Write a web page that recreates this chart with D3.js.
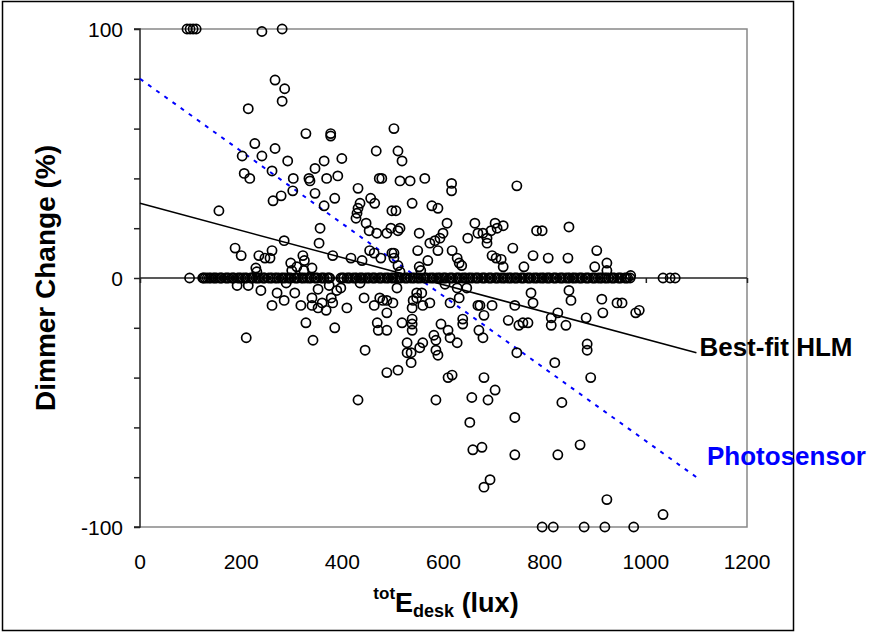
<!DOCTYPE html>
<html lang="en">
    <head>
        <title>Dimmer Change vs Desk Illuminance</title>
        <meta charset="utf-8">
        <script src="https://d3js.org/d3.v7.min.js"></script>
        <style>
            body {
                margin: 0;
                padding: 0;
                background-color: white;
                font-family: "Liberation Sans", Arial, sans-serif;
            }
        </style>
    </head>
    <body>
    <div id="container"></div>
    <script>

        // scattered observations [lux, dimmer change %]
        const points = [
            [93,100],[99,100],[105,100],[111,100],[241,99],[281,100],
            [267,79.5],[286,76],[281,71],[214,68],
            [328,58],[377,58],[377,57],[502,60],
            [227,54],[202,49],[241,49],[267,52],[292,47],[346,44],[364,47],
            [467,51],[510,51],[518,47],[399,48],
            [206,42],[217,40],[261,43],[303,40],[334,40],[369,40],[391,41],[478,40],[336,39],
            [514,39],[534,39],[563,40],[473,40],[616,38],[616,35],[745,37],
            [279,33],[263,31],[302,35],[346,34],[385,32],[364,29],[431,36],[456,32],[464,30],
            [435,30],[431,28],[429,26],[427,24],[447,22],[453,19],[468,18],[156,27],[356,20],
            [354,14],[285,15],[188,12],[200,9],[235,9],[247,8],[257,8],[261,11],[229,4],[231,2.5],
            [298,6],[310,4.5],[322,9],[325,7],[340,4],[300,3],[324,3],[381,9],[417,8],[439,7],
            [454,11],[476,8],
            [538,30],[577,29],[589,28],[498,27],[506,27],[488,18],[496,20],[510,19],[514,20],
            [552,18],[607,22],[599,18],[593,16],[583,15],[573,14],[589,11],[549,11],[569,7],
            [617,11],[627,8],[631,6],[636,5],[552,4.5],[555,3],[463,10],[498,10],[502,10],
            [502,8],[510,5],[514,2.5],
            [662,22],[668,18],[678,18],[686,16],[686,14],[702,22],[706,20],[694,19],[718,21],
            [648,16],[737,12],[696,9],[704,8],[714,7.5],[718,4.5],[759,4.5],[777,9],[784,19],
            [795,19],[807,8],[848,20.5],[846,8],[903,11],[899,4.5],[923,6],[923,3],[970,1],
            [192,-3],[214,-3],[239,-5],[271,-6],[289,-2],[306,-6],[261,-11],[285,-9],[318,-11],
            [340,-8],[340,-11],[352,-4.5],[352,-12],[360,-10],[368,-13],[374,-3],[378,-8],
            [381,-10],[389,-5],[397,-4],[409,-12],[435,-2],[443,-8],[463,-11],[474,-8],
            [328,-18],[385,-20],[469,-18],[471,-21],[210,-24],[342,-25],[445,-29],[431,-49],
            [508,-4],[547,-6],[557,-6],[603,-2.5],[627,-4],[646,-4],[480,-9],[488,-9],[500,-10],
            [488,-14],[540,-9],[547,-8],[538,-12],[559,-11],[573,-10],[613,-10],[631,-8],
            [668,-11],[672,-11],[696,-11],[741,-11],[773,-6],[777,-10],[848,-5],[852,-9],
            [913,-8.5],[915,-14],[943,-10],[953,-10],[980,-14],[987,-13],[826,-14],[813,-16],
            [813,-19],[842,-19],[882,-16],[728,-17],[749,-19],[757,-18],[767,-18],[488,-21],
            [518,-18],[538,-16.5],[538,-18.5],[538,-21],[595,-18.5],[609,-21],[638,-16.5],
            [638,-18.5],[670,-21],[680,-15],[581,-23],[585,-25],[613,-24],[627,-26],[678,-24],
            [528,-26],[559,-26],[553,-28],[528,-30],[536,-30],[585,-29],[589,-31],[536,-34],
            [488,-38],[510,-37],[609,-40],[617,-39],[680,-40],[702,-45],[656,-48],[688,-49],
            [585,-49],[745,-30],[820,-34],[884,-26.5],[884,-29],[891,-40],[834,-50],[741,-56],
            [652,-58],[658,-69],[676,-68],[741,-71],[826,-71],[870,-67],[692,-81],[680,-84],
            [923,-89],[1034,-95],[795,-100],[817,-100],[878,-100],[919,-100],[976,-100]
        ];

        // observations sitting on 0 % change (lux values)
        const zeroLux = [
            98, 124, 129, 133, 140, 145, 151, 157, 162, 169, 175, 181, 186, 193, 199, 204,
            211, 218, 223, 230, 236, 242, 247, 254, 261, 267, 274, 280, 287, 293, 299, 306,
            312, 319, 326, 331, 338, 345, 351, 358, 364, 370, 375, 397, 403, 409, 415, 421,
            428, 434, 440, 446, 453, 459, 465, 472, 478, 484, 491, 497, 504, 510, 516, 523,
            529, 535, 542, 548, 555, 561, 567, 573, 580, 586, 593, 599, 605, 612, 618, 625,
            631, 637, 644, 650, 657, 663, 669, 676, 682, 689, 695, 702, 708, 714, 721, 727,
            734, 740, 746, 753, 759, 766, 772, 778, 785, 791, 798, 804, 810, 817, 823, 830,
            836, 842, 849, 855, 862, 868, 874, 881, 887, 894, 900, 906, 913, 919, 926, 932,
            938, 945, 951, 958, 964, 1034, 1048, 1058,
            126, 137, 148, 160, 172, 184, 196, 208, 221, 233, 245, 258, 270, 283, 296, 309,
            322, 335, 348, 361, 373, 400, 412, 425, 437, 450, 462, 475, 488, 500, 513, 526,
            539, 551, 564, 577, 590, 602, 615, 628, 641, 653, 666, 679, 692, 705, 718, 731,
            743, 756, 769, 782, 795, 807, 820, 833, 846, 858, 871, 884, 897, 910, 922, 935,
            948, 961, 969
        ];

        const fitLine = [[0, 30], [1100, -30]];
        const photoLine = [[0, 80], [1100, -80]];
        const xTicks = [0, 200, 400, 600, 800, 1000, 1200];
        const yTicks = [-100, -80, -60, -40, -20, 0, 20, 40, 60, 80, 100];
        const yLabels = [-100, 0, 100];

        const w = 871;
        const h = 632;

        const svg = d3.select("#container")
            .append("svg")
            .attr("width", w)
            .attr("height", h);

        // outer chart frame
        svg.append("rect")
            .attr("x", 2.5)
            .attr("y", 1.5)
            .attr("width", 791)
            .attr("height", 629)
            .attr("fill", "white")
            .attr("stroke", "black")
            .attr("stroke-width", 1.5);

        const xScale = d3.scaleLinear().domain([0, 1200]).range([140, 747]);
        const yScale = d3.scaleLinear().domain([-100, 100]).range([527, 29]);

        // plot area border (grey top / right / bottom)
        svg.append("path")
            .attr("d", `M${xScale(0)},${yScale(100)}H${xScale(1200)}V${yScale(-100)}H${xScale(0)}`)
            .attr("fill", "none")
            .attr("stroke", "#888")
            .attr("stroke-width", 1.5);

        // y axis
        const yAxis = d3.axisLeft(yScale)
            .tickValues(yTicks)
            .tickSize(6)
            .tickFormat("");
        svg.append("g")
            .attr("transform", `translate(${xScale(0)}, 0)`)
            .call(yAxis)
            .call(g => g.selectAll("line, path").attr("stroke", "#222").attr("stroke-width", 1.5))
            .call(g => g.select(".domain").attr("d", `M-6,${yScale(100)}H0V${yScale(-100)}H-6`));

        svg.selectAll(".ylab")
            .data(yLabels)
            .enter()
            .append("text")
            .attr("class", "ylab")
            .attr("x", 123)
            .attr("y", d => yScale(d) + 7.5)
            .attr("text-anchor", "end")
            .attr("font-size", 21)
            .attr("fill", "black")
            .text(d => d);

        // x axis crossing at 0
        const xAxis = d3.axisBottom(xScale)
            .tickValues(xTicks)
            .tickSize(5)
            .tickFormat("");
        svg.append("g")
            .attr("transform", `translate(0, ${yScale(0)})`)
            .call(xAxis)
            .call(g => g.selectAll("line, path").attr("stroke", "#222").attr("stroke-width", 1.5))
            .call(g => g.select(".domain").attr("d", `M${xScale(0)},0H${xScale(1200)}`));

        svg.selectAll(".xlab")
            .data(xTicks)
            .enter()
            .append("text")
            .attr("class", "xlab")
            .attr("x", d => xScale(d))
            .attr("y", 569)
            .attr("text-anchor", "middle")
            .attr("font-size", 21)
            .attr("fill", "black")
            .text(d => d);

        // photosensor line
        const line = d3.line().x(d => xScale(d[0])).y(d => yScale(d[1]));
        svg.append("path")
            .attr("d", line(photoLine))
            .attr("fill", "none")
            .attr("stroke", "#0000ff")
            .attr("stroke-width", 2)
            .attr("stroke-dasharray", "4,6");

        // data points
        const allPoints = points.concat(zeroLux.map(v => [v, 0]));
        svg.selectAll("circle")
            .data(allPoints)
            .enter()
            .append("circle")
            .attr("cx", d => xScale(d[0]))
            .attr("cy", d => yScale(d[1]))
            .attr("r", 4.6)
            .attr("fill", "none")
            .attr("stroke", "black")
            .attr("stroke-width", 1.7);

        // best-fit line
        svg.append("path")
            .attr("d", line(fitLine))
            .attr("fill", "none")
            .attr("stroke", "black")
            .attr("stroke-width", 1.5);

        svg.append("text")
            .attr("x", xScale(1100) + 3)
            .attr("y", 356)
            .attr("font-size", 26)
            .attr("font-weight", "bold")
            .attr("fill", "black")
            .text("Best-fit HLM");

        svg.append("text")
            .attr("x", 707)
            .attr("y", 465)
            .attr("font-size", 26)
            .attr("font-weight", "bold")
            .attr("fill", "#0000ff")
            .text("Photosensor");

        // axis titles
        svg.append("text")
            .attr("transform", `translate(55, ${yScale(0)}) rotate(-90)`)
            .attr("text-anchor", "middle")
            .attr("font-size", 28)
            .attr("font-weight", "bold")
            .attr("fill", "black")
            .text("Dimmer Change (%)");

        const xTitle = svg.append("text")
            .attr("x", 446)
            .attr("y", 612)
            .attr("text-anchor", "middle")
            .attr("font-weight", "bold")
            .attr("fill", "black");
        xTitle.append("tspan").attr("font-size", 17).attr("dy", -13).text("tot");
        xTitle.append("tspan").attr("font-size", 27).attr("dy", 13).text("E");
        xTitle.append("tspan").attr("font-size", 18).attr("dy", 5).text("desk");
        xTitle.append("tspan").attr("font-size", 27).attr("dy", -5).text(" (lux)");

    </script>
    </body>
</html>
